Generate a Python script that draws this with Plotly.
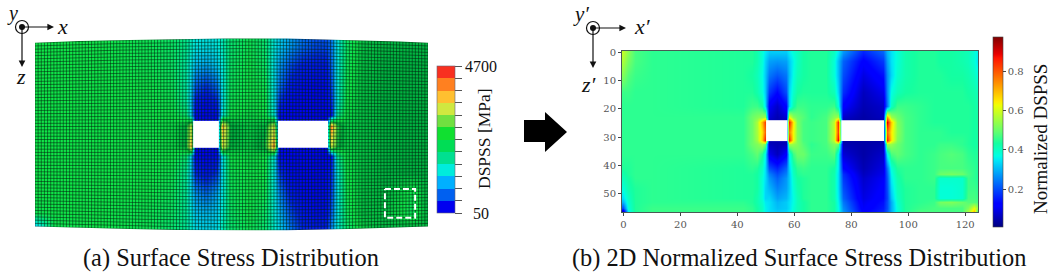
import numpy as np
import plotly.graph_objects as go

W, H = 1052, 272
SERIF = "Liberation Serif"

# ---------- panel (a): surface stress, MPa, on the mesh ----------
a_cols = [0,6,20,36,44,48,49.5,51,54.5,58,59.5,62,68,73,76,77.5,81,85,89,92.5,94,96,99,104,112,120,125]
a_rows = [2,8,14,19,23,26,29,32,35,40,46,52,56]
a_stress = [
 [2200,2200,2200,2150,2050,1850,1600,1450,1400,1450,1650,2000,2150,2000,1450,1250,1000,750,600,600,800,1450,2050,2350,2400,2400,2400],
 [2200,2200,2200,2150,2050,1750,1400,1150,1050,1250,1500,2050,2200,2050,1350,1000,600,350,300,300,700,1450,2100,2350,2420,2420,2420],
 [2200,2200,2200,2200,2100,1750,1250,700,500,800,1450,2100,2200,2150,1350,800,300,150,100,150,550,1500,2150,2350,2420,2420,2420],
 [2200,2200,2200,2200,2150,1800,1150,300,150,400,1400,2150,2200,2200,1350,450,120,80,80,120,400,1500,2200,2350,2420,2420,2420],
 [2200,2200,2200,2200,2200,2000,1250,150,80,200,1500,2200,2250,2200,1500,150,80,80,80,80,200,1800,2250,2350,2420,2420,2420],
 [2200,2200,2200,2200,2250,2450,3200,80,80,80,3750,2450,2300,2400,3300,80,80,80,80,80,4100,2600,2300,2350,2420,2420,2420],
 [2200,2200,2200,2200,2250,2450,3300,80,80,80,3500,2450,2300,2450,3500,80,80,80,80,80,3600,2550,2300,2350,2420,2420,2420],
 [2200,2200,2200,2200,2250,2450,3700,80,80,80,3400,2400,2300,2500,4000,80,80,80,80,80,3300,2500,2300,2350,2420,2420,2420],
 [2200,2200,2200,2200,2200,2000,1250,150,80,200,1400,2200,2250,2200,1500,150,80,80,80,80,200,1800,2250,2350,2420,2420,2420],
 [2200,2200,2200,2200,2150,1800,1200,400,250,500,1400,2150,2200,2200,1400,500,120,80,80,120,400,1500,2200,2350,2420,2420,2420],
 [2200,2200,2200,2200,2100,1800,1300,950,750,1050,1450,2100,2200,2150,1450,900,300,120,100,150,500,1450,2150,2350,2400,2150,2420],
 [2150,2200,2200,2150,2050,1800,1450,1200,1150,1250,1550,2050,2200,2050,1500,1150,600,250,150,200,650,1450,2100,2350,2350,2100,2420],
 [1200,2150,2200,2150,2000,1800,1550,1350,1300,1350,1650,2000,2150,2000,1550,1300,800,400,300,350,850,1500,2000,2300,2400,2400,2400],
]
a_edge_cols = [0,14,30,45,60,80,100,116,125]
a_edge_top = [1.4,0.9,0.6,0.3,0.15,0.15,0.6,1.0,1.4]
a_edge_bottom = [56.0,56.4,56.7,57.0,57.1,57.1,56.7,56.3,56.0]
a_hole_cols = [[50.3,58.5],[77.3,93.2]]
a_hole_rows = [24.6,32.6]
a_box_cols = [111.3,120.9]
a_box_rows = [44.8,53.4]
a_tick_values = [50,437.5,825,1212.5,1600,1987.5,2375,2762.5,3150,3537.5,3925,4312.5,4700]
a_tick_labels = ["\u00a0\u00a050"] + [""]*11 + ["4700"]
a_band_colors = ["#0000f0","#0060f0","#00b0ff","#00ecdc","#00e090","#00dd55",
                 "#10e030","#70e040","#d0e840","#ffc030","#ff8020","#f83020"]
a_field_colors = [(50,"#0000f0"),(400,"#0020e8"),(800,"#0070f0"),(1200,"#00c0f0"),(1500,"#00ecdc"),(1800,"#00e898"),
                  (2200,"#10e448"),(2430,"#00b040"),(2800,"#70e040"),(3300,"#d8e840"),(3700,"#ffc030"),(4100,"#ff8020"),(4700,"#f83020")]

# ---------- panel (b): normalized stress, on the 125 x 57 image ----------
b_cols = [0,1.5,4,10,42,45,47,48.5,49.7,51,54,57,58,59.5,61,63,66,71,74,75.5,77,84,91,92.5,94,96,99,104,109,111,115,119,121,123,124]
b_rows = [0,3,8,14,19,23,24.5,28,31,32.5,36,41,43,44.5,48,51.5,53,55,56]
b_stress = [
 [.58,.53,.47,.45,.44,.44,.42,.38,.35,.32,.32,.32,.35,.38,.40,.43,.44,.44,.40,.35,.27,.16,.22,.30,.34,.38,.42,.44,.44,.43,.43,.42,.41,.38,.36],
 [.56,.51,.47,.45,.44,.44,.42,.38,.33,.28,.27,.28,.32,.36,.40,.43,.44,.44,.38,.31,.22,.12,.18,.28,.34,.38,.42,.44,.44,.43,.43,.42,.41,.38,.35],
 [.52,.48,.46,.45,.44,.43,.41,.37,.32,.24,.21,.24,.31,.37,.41,.43,.44,.44,.38,.31,.20,.09,.14,.26,.33,.39,.42,.44,.44,.44,.43,.43,.42,.40,.38],
 [.46,.46,.45,.45,.44,.44,.42,.38,.32,.18,.13,.20,.33,.39,.43,.44,.44,.44,.41,.33,.17,.06,.10,.26,.37,.41,.43,.44,.44,.44,.44,.44,.43,.42,.41],
 [.45,.45,.45,.45,.44,.46,.46,.43,.34,.11,.07,.13,.33,.42,.46,.46,.45,.45,.46,.38,.12,.05,.07,.24,.40,.46,.46,.45,.44,.44,.44,.44,.44,.43,.42],
 [.45,.45,.45,.45,.45,.50,.52,.54,.55,.08,.05,.08,.62,.53,.50,.48,.45,.47,.53,.55,.07,.04,.06,.72,.55,.50,.47,.45,.44,.44,.44,.44,.44,.43,.43],
 [.45,.45,.45,.45,.45,.50,.56,.70,.82,.05,.05,.05,.86,.65,.51,.47,.46,.47,.58,.84,.04,.04,.04,.90,.68,.52,.47,.45,.44,.44,.44,.44,.44,.43,.43],
 [.45,.45,.45,.45,.45,.50,.56,.66,.78,.05,.05,.05,.76,.63,.52,.47,.46,.47,.58,.82,.04,.04,.04,.78,.65,.53,.47,.45,.45,.45,.44,.44,.44,.43,.43],
 [.45,.45,.45,.45,.45,.50,.55,.68,.85,.05,.05,.05,.85,.63,.52,.47,.46,.47,.58,.88,.04,.04,.04,.85,.66,.52,.47,.45,.45,.45,.45,.45,.44,.43,.43],
 [.45,.45,.45,.45,.45,.50,.52,.55,.50,.06,.05,.06,.55,.54,.52,.48,.45,.47,.52,.50,.05,.04,.05,.55,.54,.50,.47,.45,.45,.46,.46,.45,.44,.43,.43],
 [.45,.45,.45,.45,.45,.47,.49,.44,.36,.10,.06,.12,.36,.46,.50,.50,.46,.46,.48,.36,.08,.04,.07,.36,.47,.49,.47,.45,.46,.47,.48,.47,.45,.44,.44],
 [.44,.44,.45,.45,.44,.45,.44,.40,.34,.20,.16,.22,.33,.41,.45,.46,.45,.45,.43,.35,.13,.05,.09,.24,.38,.44,.45,.45,.46,.47,.47,.47,.46,.45,.44],
 [.42,.44,.45,.45,.44,.44,.43,.39,.34,.25,.20,.25,.32,.40,.44,.45,.45,.45,.42,.34,.17,.06,.10,.22,.36,.43,.45,.45,.46,.50,.51,.50,.47,.45,.44],
 [.41,.43,.45,.45,.44,.44,.43,.38,.34,.27,.22,.27,.32,.39,.43,.44,.45,.45,.42,.34,.18,.07,.11,.21,.35,.42,.45,.45,.46,.39,.39,.39,.46,.45,.44],
 [.38,.42,.44,.45,.44,.44,.43,.38,.33,.30,.25,.28,.32,.38,.42,.44,.45,.45,.42,.34,.20,.08,.12,.20,.33,.41,.44,.45,.45,.38,.38,.39,.46,.46,.45],
 [.34,.40,.44,.45,.44,.44,.42,.38,.33,.33,.28,.30,.33,.37,.41,.44,.45,.45,.42,.35,.22,.09,.13,.19,.31,.40,.44,.45,.45,.38,.38,.39,.47,.47,.46],
 [.30,.39,.44,.45,.45,.44,.42,.39,.35,.34,.30,.32,.34,.37,.41,.43,.45,.45,.43,.36,.24,.10,.14,.20,.29,.39,.44,.45,.46,.51,.52,.50,.48,.48,.47],
 [.20,.38,.44,.46,.46,.45,.43,.40,.36,.34,.31,.32,.34,.38,.41,.43,.45,.45,.43,.37,.26,.11,.15,.20,.29,.38,.44,.46,.47,.47,.47,.47,.52,.62,.55],
 [.08,.36,.44,.46,.46,.45,.43,.40,.36,.34,.32,.33,.35,.38,.41,.43,.45,.45,.43,.37,.27,.12,.16,.21,.29,.38,.44,.47,.47,.47,.47,.47,.55,.68,.50],
]
b_hole_cols = [[50.1,57.6],[76.5,91.5]]
b_hole_rows = [24.0,31.4]
b_x_ticks = [0,20,40,60,80,100,120]
b_y_ticks = [0,10,20,30,40,50]
b_bar_ticks = [0.2,0.4,0.6,0.8]
b_range = [0.007,0.973]
jet = [(0,"#00007f"),(.11,"#0000ff"),(.125,"#0000ff"),(.35,"#00e6f7"),(.375,"#00ffe2"),(.44,"#14ffa0"),
       (.5,"#60ff70"),(.64,"#eeff04"),(.66,"#ffec00"),(.75,"#ff9700"),(.89,"#ff1300"),(.91,"#e80000"),(1,"#7f0000")]


def px(x): return x / W
def py(y): return 1 - y / H

# banded colour scale for the colour bar, smooth one for the field
n = len(a_band_colors)
a_scale = []
for i, c in enumerate(a_band_colors):
    a_scale += [[i / n, c], [(i + 1) / n, c]]
a_smooth = [[(v - 50) / 4650, c] for v, c in a_field_colors]

fig = go.Figure()

# ----- (a)
fig.add_trace(go.Heatmap(
    x=a_cols, y=a_rows, z=a_stress, zmin=50, zmax=4700, zsmooth="best", colorscale=a_smooth,
    showscale=False, xaxis="x", yaxis="y", hoverinfo="skip",
))
fig.add_trace(go.Heatmap(
    x=[0, 1], y=a_rows[:2], z=[a_tick_values[:2], a_tick_values[-2:]], zmin=50, zmax=4700, colorscale=a_scale,
    opacity=0, xaxis="x", yaxis="y", hoverinfo="skip",
    colorbar=dict(x=px(437), xanchor="left", y=py(66), yanchor="top", lenmode="pixels", len=147,
                  thicknessmode="pixels", thickness=18, xpad=0, ypad=0, outlinewidth=0.6, outlinecolor="#667",
                  tickmode="array", tickvals=a_tick_values, ticktext=a_tick_labels, ticks="outside",
                  ticklen=7, tickwidth=1, tickcolor="#555", tickfont=dict(family=SERIF, size=16, color="#111")),
))
# mesh, bent between the outer edges
mesh_cols = np.arange(0, 126)
top = np.interp(mesh_cols, a_edge_cols, a_edge_top)
bot = np.interp(mesh_cols, a_edge_cols, a_edge_bottom)
mx, my = [], []
for c, t, b in zip(mesh_cols, top, bot):
    mx += [c, c, None]; my += [t, b, None]
for k in range(58):
    mx += list(mesh_cols) + [None]
    my += list(top + (bot - top) * k / 57) + [None]
fig.add_trace(go.Scatter(x=mx, y=my, mode="lines", line=dict(color="rgba(0,35,15,0.6)", width=0.9),
                         xaxis="x", yaxis="y", hoverinfo="skip", showlegend=False))
# white beyond the curved mesh edges
fig.add_trace(go.Scatter(x=a_edge_cols + [125, 0], y=a_edge_top + [-0.6, -0.6], mode="lines", fill="toself",
                         fillcolor="white", line=dict(width=0), xaxis="x", yaxis="y", hoverinfo="skip", showlegend=False))
fig.add_trace(go.Scatter(x=a_edge_cols + [125, 0], y=a_edge_bottom + [57.6, 57.6], mode="lines", fill="toself",
                         fillcolor="white", line=dict(width=0), xaxis="x", yaxis="y", hoverinfo="skip", showlegend=False))
for h in a_hole_cols:
    fig.add_trace(go.Scatter(x=[h[0], h[1], h[1], h[0], h[0]],
                             y=[a_hole_rows[0], a_hole_rows[0], a_hole_rows[1], a_hole_rows[1], a_hole_rows[0]],
                             mode="lines", fill="toself", fillcolor="white", line=dict(width=0),
                             xaxis="x", yaxis="y", hoverinfo="skip", showlegend=False))
fig.add_trace(go.Scatter(x=[a_box_cols[0], a_box_cols[1], a_box_cols[1], a_box_cols[0], a_box_cols[0]],
                         y=[a_box_rows[0], a_box_rows[0], a_box_rows[1], a_box_rows[1], a_box_rows[0]],
                         mode="lines", line=dict(color="white", width=2, dash="6px,3px"),
                         xaxis="x", yaxis="y", hoverinfo="skip", showlegend=False))

# ----- (b)
scale_b = [[f, c] for f, c in jet]
fig.add_trace(go.Heatmap(
    x=b_cols, y=b_rows, z=b_stress, zmin=b_range[0], zmax=b_range[1], zsmooth="best", colorscale=scale_b,
    xaxis="x2", yaxis="y2", hoverinfo="skip",
    colorbar=dict(x=px(993), xanchor="left", y=py(37), yanchor="top", lenmode="pixels", len=190,
                  thicknessmode="pixels", thickness=10, xpad=0, ypad=0, outlinewidth=0.6, outlinecolor="#444",
                  tickmode="array", tickvals=b_bar_ticks, ticks="outside", ticklen=3, tickwidth=1,
                  tickcolor="#444", tickformat=".1f", tickfont=dict(family="DejaVu Serif", size=10, color="#555")),
))
for h in b_hole_cols:
    fig.add_trace(go.Scatter(x=[h[0], h[1], h[1], h[0], h[0]],
                             y=[b_hole_rows[0], b_hole_rows[0], b_hole_rows[1], b_hole_rows[1], b_hole_rows[0]],
                             mode="lines", fill="toself", fillcolor="white", line=dict(width=0),
                             xaxis="x2", yaxis="y2", hoverinfo="skip", showlegend=False))

axis_off = dict(visible=False, showgrid=False, zeroline=False)
tick_b = dict(showgrid=False, zeroline=False, showline=True, mirror=True, linecolor="#4a5a55", linewidth=1,
              ticks="outside", ticklen=3, tickcolor="#444",
              tickfont=dict(family="DejaVu Serif", size=10, color="#555"))

annotations = []
def text(x, y, s, size, angle=0, italic=False):
    annotations.append(dict(x=px(x), y=py(y), xref="paper", yref="paper", text=f"<i>{s}</i>" if italic else s,
                            showarrow=False, textangle=angle, xanchor="center", yanchor="middle",
                            font=dict(family=SERIF, size=size, color="#111")))
def arrow(x0, y0, x1, y1):
    annotations.append(dict(x=px(x1), y=py(y1), xref="paper", yref="paper", text="", showarrow=True,
                            axref="pixel", ayref="pixel", ax=x0 - x1, ay=y0 - y1,
                            arrowhead=2, arrowsize=1.1, arrowwidth=1.2, arrowcolor="#111"))

text(231, 258, "(a) Surface Stress Distribution", 24.4)
text(799, 258, "(b) 2D Normalized Surface Stress Distribution", 24.4)
text(484, 139, "DSPSS [MPa]", 17.5, angle=-90)
text(1040, 139, "Normalized DSPSS", 19, angle=-90)
text(12, 13, "y", 20, italic=True)
text(62, 26, "x", 22, italic=True)
text(21, 76, "z", 22, italic=True)
text(581, 14, "y\u2032", 21, italic=True)
text(642, 27, "x\u2032", 22, italic=True)
text(589, 84, "z\u2032", 22, italic=True)
arrow(22, 27, 54, 27)
arrow(22, 27, 22, 67)
arrow(593, 28, 626, 28)
arrow(593, 28, 593, 68)

shapes = []
for cx, cy in [(22, 27), (593, 28)]:
    shapes.append(dict(type="circle", xref="paper", yref="paper", x0=px(cx - 6.5), x1=px(cx + 6.5),
                       y0=py(cy + 6.5), y1=py(cy - 6.5), line=dict(color="#111", width=1.2), fillcolor="white"))
    shapes.append(dict(type="circle", xref="paper", yref="paper", x0=px(cx - 3), x1=px(cx + 3),
                       y0=py(cy + 3), y1=py(cy - 3), line=dict(width=0), fillcolor="#111"))
big = [(524, 120), (545, 120), (545, 112), (567, 132), (545, 152), (545, 142), (524, 142)]
shapes.append(dict(type="path", xref="paper", yref="paper", fillcolor="black", line=dict(width=0),
                   path="M " + " L ".join(f"{px(a):.5f} {py(b):.5f}" for a, b in big) + " Z"))

fig.update_layout(
    width=W, height=H, autosize=False, margin=dict(l=0, r=0, t=0, b=0, autoexpand=False),
    paper_bgcolor="white", plot_bgcolor="white", showlegend=False,
    xaxis=dict(domain=[px(35), px(428)], range=[0, 125], anchor="y", **axis_off),
    yaxis=dict(domain=[py(232), py(36)], range=[57.6, -0.6], anchor="x", **axis_off),
    xaxis2=dict(domain=[px(622), px(978)], range=[-0.5, 124.5], anchor="y2", tickvals=b_x_ticks, **tick_b),
    yaxis2=dict(domain=[py(212), py(51)], range=[56.5, -0.5], anchor="x2", tickvals=b_y_ticks, **tick_b),
    annotations=annotations, shapes=shapes,
)
fig.write_html("out.html", config=dict(displayModeBar=False),
               post_script="document.body.style.margin='0';document.documentElement.style.overflow='hidden';")
